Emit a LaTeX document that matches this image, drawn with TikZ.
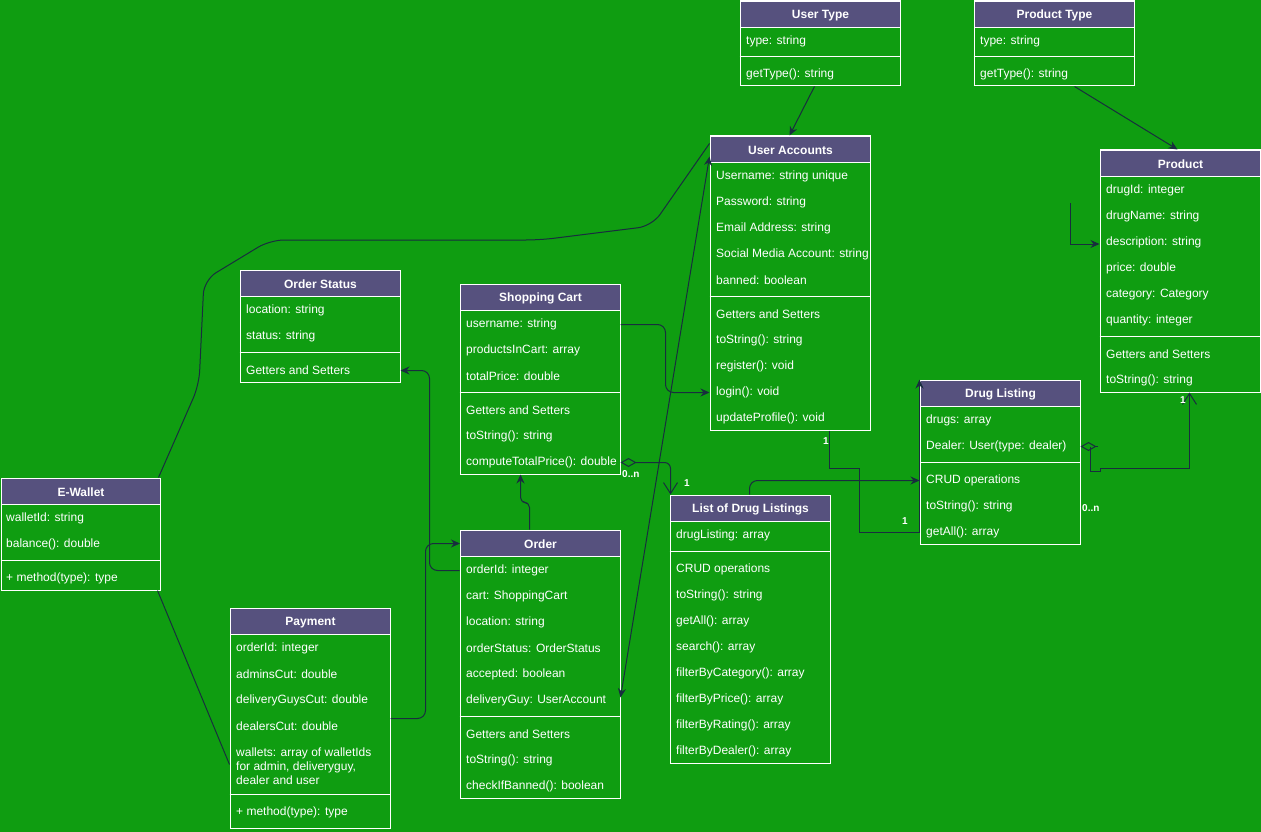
\documentclass[tikz,border=0pt]{standalone}
\usepackage{fontspec}
\setmainfont{Liberation Sans}
\usetikzlibrary{arrows.meta,calc}

\definecolor{bgc}{HTML}{0F9D11}
\definecolor{headc}{HTML}{56517E}
\definecolor{linkc}{HTML}{182E3E}

\tikzset{
  classframe/.style={draw=white, line width=1pt, inner sep=0pt},
  classhead/.style={draw=white, fill=headc, line width=1pt, inner sep=0pt,
    minimum height=26pt},
  headtext/.style={inner sep=0pt, text=white, font=\fontsize{12}{14}\selectfont\bfseries},
  rowtext/.style={anchor=west, inner sep=0pt, text=white, yshift=-1.5pt,
    font=\fontsize{12}{14}\selectfont, align=left},
  sepline/.style={draw=white, line width=1pt},
  link/.style={draw=linkc, line width=1pt},
  mult/.style={inner sep=0pt, text=white, font=\fontsize{10}{12}\selectfont\bfseries},
  headfill/.tip={Stealth[length=9pt,width=8pt]},
  headopen/.tip={Straight Barb[length=11pt,width=14pt]},
  aggr/.tip={Diamond[open,length=16pt,width=9pt]},
}

% class box: name, left, top, right, bottom, title
\newcommand{\umlbox}[6]{%
  \node[classframe, minimum width={(#4-#2)*1pt}, minimum height={(#5-#3)*1pt}]
    (#1) at ({(#2+#4)/2},{(#3+#5)/2}) {};
  \node[classhead, minimum width={(#4-#2)*1pt}, anchor=north west] (#1-h) at (#2,#3) {};
  \node[headtext] (#1-t) at ([yshift=-1pt]#1-h.center) {#6};
}
% compartment row: name, x, y, text
\newcommand{\umlrow}[4]{\node[rowtext] (#1) at (#2,#3) {#4};}
% compartment separator: box name, y
\newcommand{\umlsep}[2]{\draw[sepline] (#1.west |- 0,#2) -- (#1.east |- 0,#2);}

\begin{document}
\begin{tikzpicture}[x=1pt,y=-1pt]
\useasboundingbox (0,0) rectangle (1261,832);
\fill[bgc] (0,0) rectangle (1261,832);

% ---------- User Type ----------
\umlbox{ut}{740}{1}{900}{86}{User Type}
\umlrow{ut-1}{746}{40}{type: string}
\umlsep{ut}{57}
\umlrow{ut-2}{746}{73}{getType(): string}

% ---------- Product Type ----------
\umlbox{pt}{974}{1}{1134}{86}{Product Type}
\umlrow{pt-1}{980}{40}{type: string}
\umlsep{pt}{57}
\umlrow{pt-2}{980}{73}{getType(): string}

% ---------- User Accounts ----------
\umlbox{ua}{710}{136}{870}{430}{User Accounts}
\umlrow{ua-1}{716}{175}{Username: string unique}
\umlrow{ua-2}{716}{201}{Password: string}
\umlrow{ua-3}{716}{227}{Email Address: string}
\umlrow{ua-4}{716}{253}{Social Media Account: string}
\umlrow{ua-5}{716}{279}{banned: boolean}
\umlsep{ua}{296}
\umlrow{ua-6}{716}{313}{Getters and Setters}
\umlrow{ua-7}{716}{339}{toString(): string}
\umlrow{ua-8}{716}{365}{register(): void}
\umlrow{ua-9}{716}{391}{login(): void}
\umlrow{ua-10}{716}{417}{updateProfile(): void}

% ---------- Product ----------
\umlbox{prod}{1100}{150}{1260}{392}{Product}
\umlrow{prod-1}{1106}{189}{drugId: integer}
\umlrow{prod-2}{1106}{215}{drugName: string}
\umlrow{prod-3}{1106}{241}{description: string}
\umlrow{prod-4}{1106}{267}{price: double}
\umlrow{prod-5}{1106}{293}{category: Category}
\umlrow{prod-6}{1106}{319}{quantity: integer}
\umlsep{prod}{336}
\umlrow{prod-7}{1106}{353}{Getters and Setters}
\umlrow{prod-8}{1106}{379}{toString(): string}

% ---------- Order Status ----------
\umlbox{os}{240}{270}{400}{382}{Order Status}
\umlrow{os-1}{246}{309}{location: string}
\umlrow{os-2}{246}{335}{status: string}
\umlsep{os}{352}
\umlrow{os-3}{246}{369}{Getters and Setters}

% ---------- Shopping Cart ----------
\umlbox{sc}{460}{284}{620}{474}{Shopping Cart}
\umlrow{sc-1}{466}{323}{username: string}
\umlrow{sc-2}{466}{349}{productsInCart: array}
\umlrow{sc-3}{466}{375}{totalPrice: double}
\umlsep{sc}{392}
\umlrow{sc-4}{466}{409}{Getters and Setters}
\umlrow{sc-5}{466}{435}{toString(): string}
\umlrow{sc-7}{466}{461}{computeTotalPrice(): double}

% ---------- Drug Listing ----------
\umlbox{dl}{920}{380}{1080}{544}{Drug Listing}
\umlrow{dl-1}{926}{419}{drugs: array}
\umlrow{dl-2}{926}{445}{Dealer: User(type: dealer)}
\umlsep{dl}{462}
\umlrow{dl-3}{926}{479}{CRUD operations}
\umlrow{dl-4}{926}{505}{toString(): string}
\umlrow{dl-5}{926}{531}{getAll(): array}

% ---------- List of Drug Listings ----------
\umlbox{ldl}{670}{495}{830}{763}{List of Drug Listings}
\umlrow{ldl-1}{676}{534}{drugListing: array}
\umlsep{ldl}{551}
\umlrow{ldl-2}{676}{568}{CRUD operations}
\umlrow{ldl-3}{676}{594}{toString(): string}
\umlrow{ldl-4}{676}{620}{getAll(): array}
\umlrow{ldl-5}{676}{646}{search(): array}
\umlrow{ldl-6}{676}{672}{filterByCategory(): array}
\umlrow{ldl-7}{676}{698}{filterByPrice(): array}
\umlrow{ldl-8}{676}{724}{filterByRating(): array}
\umlrow{ldl-9}{676}{750}{filterByDealer(): array}

% ---------- E-Wallet ----------
\umlbox{ew}{1}{478}{160}{590}{E-Wallet}
\umlrow{ew-1}{6}{517}{walletId: string}
\umlrow{ew-2}{6}{543}{balance(): double}
\umlsep{ew}{560}
\umlrow{ew-3}{6}{577}{+ method(type): type}

% ---------- Order ----------
\umlbox{ord}{460}{530}{620}{798}{Order}
\umlrow{ord-1}{466}{569}{orderId: integer}
\umlrow{ord-2}{466}{595}{cart: ShoppingCart}
\umlrow{ord-3}{466}{621}{location: string}
\umlrow{ord-4}{466}{647}{orderStatus: OrderStatus}
\umlrow{ord-5}{466}{673}{accepted: boolean}
\umlrow{ord-6}{466}{699}{deliveryGuy: UserAccount}
\umlsep{ord}{716}
\umlrow{ord-7}{466}{733}{Getters and Setters}
\umlrow{ord-8}{466}{759}{toString(): string}
\umlrow{ord-9}{466}{785}{checkIfBanned(): boolean}

% ---------- Payment ----------
\umlbox{pay}{230}{608}{390}{828}{Payment}
\umlrow{pay-1}{236}{647}{orderId: integer}
\umlrow{pay-2}{236}{673}{adminsCut: double}
\umlrow{pay-3}{236}{699}{deliveryGuysCut: double}
\umlrow{pay-4}{236}{725}{dealersCut: double}
\umlrow{pay-5}{236}{765}{wallets: array of walletIds\\for admin, deliveryguy,\\dealer and user}
\umlsep{pay}{794}
\umlrow{pay-6}{236}{811}{+ method(type): type}

% ---------- connectors ----------
\draw[link,-headfill] ([xshift=75pt]ut.south west) -- ([xshift=80pt]ua.north west);
\draw[link,-headfill] ([xshift=101pt]pt.south west) -- ([xshift=78pt]prod.north west);

\coordinate (stub) at (1070,203);
\draw[link,-headfill] (stub) |- ([yshift=-1.5pt]prod.west |- prod-3);

\draw[link,rounded corners=8pt,-headfill] (sc.east |- sc-1) -- ++(45,0) |- (ua.west |- ua-9);

\draw[link,rounded corners=6pt,aggr-headopen] (sc.east |- sc-7) -| ([xshift=1pt]ldl.north west);

\draw[link,-headfill] ([xshift=120pt]ua.south west) |- ++(30,38) |- (dl.west |- dl-5) -- (dl.north west);

\draw[link,rounded corners=8pt,-headfill] ([xshift=80pt]ldl.north west) |- (dl.west |- dl-3);

\draw[link,aggr-] (dl.east |- dl-2) -- ++(17,0);
\draw[link,-headopen] ([xshift=10pt]dl.east |- dl-2) -- ++(0,25) -- ++(10,0) -- ++(0,-3)
  -| ([xshift=90pt]prod.south west);

\draw[link,rounded corners=14pt] ([yshift=-8pt]ua.north west) -- (652,226) -- (540,240)
  -- (270,240) -- (204,280) -- (199,385) -- ([xshift=-2pt]ew.north east);

\draw[link] ([xshift=-3pt]ew.south east) -- ([yshift=2pt]pay.west |- pay-5);

\draw[link,rounded corners=8pt,-headfill] ([yshift=8pt]pay.east |- pay-4) -- ++(35,0) |- (ord-h.west);

\draw[link,rounded corners=8pt,-headfill] (ord.west |- ord-1) -- ++(-30,0) |- (os.east |- os-3);

\draw[link,rounded corners=5pt,-headfill] ([xshift=70pt]ord.north west) |- ++(-9,-27)
  -- ([xshift=61pt]sc.south west);

\draw[link,headfill-headfill] ([yshift=3pt]ord.east |- ord-6) -- ([yshift=-21pt]ua.north west);

% ---------- multiplicities ----------
\node[mult,anchor=west] (m1) at (622,474) {0..n};
\node[mult] (m2) at (687,483) {1};
\node[mult] (m3) at (826,441) {1};
\node[mult] (m4) at (905,521) {1};
\node[mult,anchor=west] (m5) at (1082,508) {0..n};
\node[mult] (m6) at (1183,400) {1};
\end{tikzpicture}
\end{document}
